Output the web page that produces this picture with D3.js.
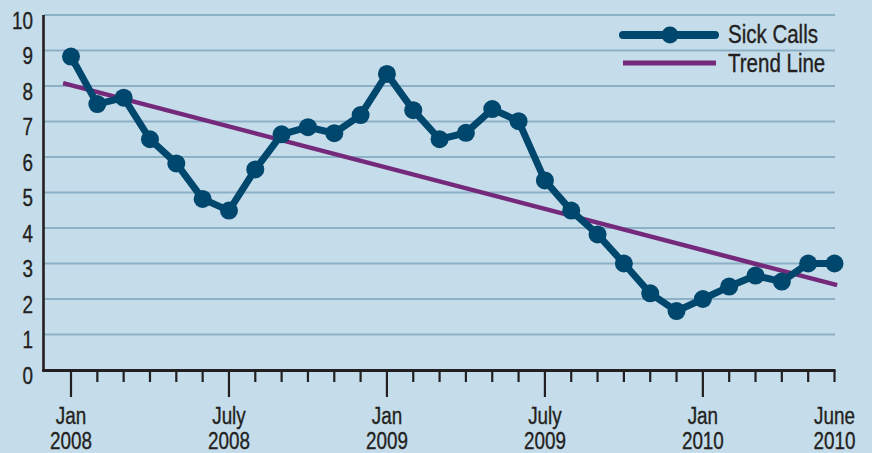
<!DOCTYPE html>
<html lang="en">
<head>
  <meta charset="UTF-8">
  <title>Sick Calls</title>
  <script src="https://d3js.org/d3.v7.min.js"></script>
  <style>
    body {
      margin: 0;
      padding: 0;
      background: #c5dcea;
    }
    svg text {
      font-family: "Liberation Sans", Arial, sans-serif;
      fill: #231f20;
      stroke: #231f20;
      stroke-width: 0.35px;
    }
  </style>
</head>
<body>
  <div id="chart"></div>
  <script>
    // months from Jan 2008 to June 2010
    const sickCalls = [8.83, 7.49, 7.67, 6.5, 5.82, 4.82, 4.49, 5.65, 6.64, 6.84, 6.67, 7.18,
                       8.34, 7.32, 6.5, 6.68, 7.35, 7.01, 5.34, 4.49, 3.82, 3.0, 2.16, 1.66,
                       2.0, 2.35, 2.66, 2.49, 3.0, 3.0];
    // trend line end points: [month index, value]
    const trendLine = [[-0.3, 8.08], [29.1, 2.39]];
    const yTicks = d3.range(0, 11);
    const xLabels = [
      { month: 0, top: "Jan", bottom: "2008" },
      { month: 6, top: "July", bottom: "2008" },
      { month: 12, top: "Jan", bottom: "2009" },
      { month: 18, top: "July", bottom: "2009" },
      { month: 24, top: "Jan", bottom: "2010" },
      { month: 29, top: "June", bottom: "2010" }
    ];
    const majorTicks = [0, 6, 12, 18, 24];
    const legendItems = ["Sick Calls", "Trend Line"];

    const width = 872, height = 453;
    const lineColor = "#00476d", trendColor = "#74297a", gridColor = "#8cb0c6";
    const squeeze = 0.82; // fake a condensed face

    const x = d3.scaleLinear().domain([0, 29]).range([71, 834.5]);
    const y = d3.scaleLinear().domain([0, 10]).range([370, 15]);

    const svg = d3.select("#chart").append("svg")
      .attr("width", width)
      .attr("height", height);

    svg.append("rect").attr("width", width).attr("height", height).attr("fill", "#c5dcea");

    // gridlines
    svg.append("g")
      .selectAll("line")
      .data(yTicks.filter(d => d > 0))
      .join("line")
      .attr("x1", 44).attr("x2", 835)
      .attr("y1", d => y(d)).attr("y2", d => y(d))
      .attr("stroke", gridColor)
      .attr("stroke-width", 2.2);

    // y labels
    svg.append("g")
      .selectAll("text")
      .data(yTicks)
      .join("text")
      .attr("transform", d => `translate(33,${y(d) + 13.5}) scale(${squeeze},1)`)
      .attr("text-anchor", "end")
      .attr("font-size", 23)
      .text(d => d);

    // month ticks
    svg.append("g")
      .selectAll("line")
      .data(d3.range(30))
      .join("line")
      .attr("x1", d => x(d)).attr("x2", d => x(d))
      .attr("y1", y(0))
      .attr("y2", d => majorTicks.includes(d) ? 397 : 382)
      .attr("stroke", "#231f20")
      .attr("stroke-width", 2.2);

    // axes
    svg.append("line")
      .attr("x1", 43.5).attr("x2", 43.5).attr("y1", 15).attr("y2", 371.5)
      .attr("stroke", "#231f20").attr("stroke-width", 2.6);
    svg.append("line")
      .attr("x1", 42.2).attr("x2", 835.5).attr("y1", 370.5).attr("y2", 370.5)
      .attr("stroke", "#231f20").attr("stroke-width", 3);

    // x labels
    const xl = svg.append("g")
      .selectAll("g")
      .data(xLabels)
      .join("g")
      .attr("transform", d => `translate(${x(d.month)},0) scale(${squeeze},1)`);
    xl.append("text").attr("y", 424).attr("text-anchor", "middle").attr("font-size", 23).text(d => d.top);
    xl.append("text").attr("y", 449).attr("text-anchor", "middle").attr("font-size", 23).text(d => d.bottom);

    // trend line
    svg.append("path")
      .datum(trendLine)
      .attr("d", d3.line().x(d => x(d[0])).y(d => y(d[1])))
      .attr("stroke", trendColor)
      .attr("stroke-width", 4.5)
      .attr("fill", "none");

    // sick calls
    svg.append("path")
      .datum(sickCalls)
      .attr("d", d3.line().x((d, i) => x(i)).y(d => y(d)))
      .attr("stroke", lineColor)
      .attr("stroke-width", 7)
      .attr("stroke-linejoin", "round")
      .attr("fill", "none");

    svg.append("g")
      .selectAll("circle")
      .data(sickCalls)
      .join("circle")
      .attr("cx", (d, i) => x(i))
      .attr("cy", d => y(d))
      .attr("r", 9)
      .attr("fill", lineColor);

    // legend
    const legend = svg.append("g");
    legend.append("line")
      .attr("x1", 623).attr("x2", 715).attr("y1", 35).attr("y2", 35)
      .attr("stroke", lineColor).attr("stroke-width", 8).attr("stroke-linecap", "round");
    legend.append("circle").attr("cx", 670).attr("cy", 35).attr("r", 8.5).attr("fill", lineColor);
    legend.append("line")
      .attr("x1", 623).attr("x2", 716).attr("y1", 63).attr("y2", 63)
      .attr("stroke", trendColor).attr("stroke-width", 5);
    legend.selectAll("text")
      .data(legendItems)
      .join("text")
      .attr("transform", (d, i) => `translate(728,${43 + i * 29}) scale(${squeeze},1)`)
      .attr("font-size", 25)
      .text(d => d);
  </script>
</body>
</html>
